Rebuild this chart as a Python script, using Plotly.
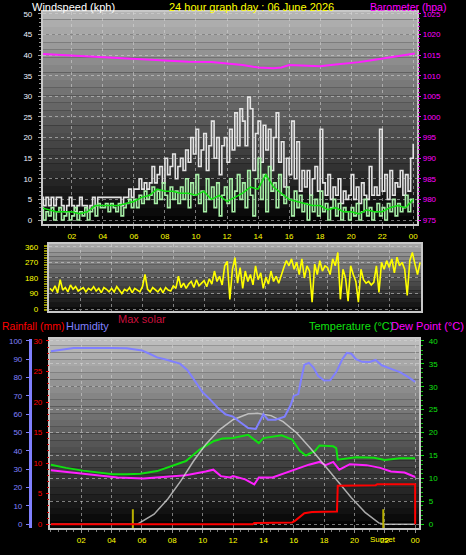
import plotly.graph_objects as go

W, H = 466, 555

# ---------------- data ----------------
t10 = [i / 6 for i in range(145)]  # 10-minute time steps (hours)

gust = [5.5, 3.5, 5.5, 3.5, 5.5, 3.5,
        5.5, 5.5, 3.5, 2, 3.5, 5.5,
        3.5, 2, 3.5, 5.5, 3.5, 3.5,
        2, 3.5, 5.5, 3.5, 5.5, 5.5,
        5.5, 5.5, 5.5, 5.5, 5.5, 5.5,
        5.5, 3.5, 5.5, 5.5, 7.5, 5.5,
        7.5, 7.5, 10, 7.5, 9, 7.5,
        9, 13, 9, 11, 13, 9,
        15, 11, 13, 16, 10, 13,
        15, 12, 17, 14, 20, 16,
        22, 13, 17, 21, 12, 18,
        24, 15, 20, 11, 18, 20,
        14, 22, 17, 26, 18, 27,
        24, 18, 29.8, 27, 12, 21,
        24, 14, 23, 17, 22, 12,
        20, 26, 14, 19, 8, 15,
        11, 24, 10, 19, 7, 12,
        8, 12, 6, 10, 13, 7,
        22, 9, 6, 11, 5, 8,
        6, 10, 4, 7, 5, 6,
        11, 5, 8, 4, 9, 6,
        5, 13, 6, 8, 6, 22,
        7, 11, 5, 12, 6, 9,
        8, 12, 6, 11, 7, 15,
        18.5]

speed = [3, 0, 2, 1, 3, 0,
         2, 3, 0, 1, 2, 0,
         1, 3, 0, 2, 1, 3,
         0, 2, 3, 1, 4, 3,
         3, 4, 2, 4, 3, 2,
         4, 1, 3, 4, 5, 3,
         5, 3, 6, 4, 7, 5,
         6, 8, 4, 7, 5, 9,
         6, 3, 8, 5, 7, 4,
         8, 5, 10, 3, 9, 6,
         11, 4, 7, 2, 10, 5,
         8, 3, 9, 1, 6, 8,
         4, 10, 2, 7, 11, 5,
         9, 3, 12, 6, 1, 10,
         15, 5, 11, 2, 13, 7,
         9, 3, 11, 6, 4, 8,
         5, 1, 7, 3, 6, 2,
         4, 0, 6, 2, 5, 1,
         7, 2, 4, 0, 3, 5,
         1, 4, 0, 3, 2, 0,
         3, 1, 4, 0, 2, 5,
         1, 3, 0, 2, 4, 1,
         3, 0, 4, 2, 5, 1,
         4, 2, 3, 6, 2, 5,
         4]

avg_hours = [0, 0.5, 1, 1.5, 2, 2.5, 3, 3.5, 4, 4.5, 5, 5.5, 6, 6.5, 7, 7.5, 8, 8.5,
             9, 9.5, 10, 10.5, 11, 11.5, 12, 12.5, 13, 13.5, 14, 14.5, 15, 15.5, 16,
             16.5, 17, 17.5, 18, 18.5, 19, 19.5, 20, 20.5, 21, 21.5, 22, 22.5, 23, 23.5, 24]
avg_speed = [3, 2.5, 2, 2, 2, 1.5, 2, 3.5, 3.5, 3.5, 3.5, 4, 4.5, 5.5, 6, 7.5, 7, 7,
             6.5, 6.5, 6, 7, 5, 6, 4.5, 5.5, 6.5, 8, 7.5, 11, 8, 6.5, 5,
             4.5, 4, 3.5, 3.5, 2.5, 3, 2, 2, 1.5, 2.5, 2, 2, 3, 3.5, 3, 5]

baro_hours = [0, 2, 4, 6, 8, 9.5, 11, 12, 13, 13.5, 14, 15, 15.5, 16, 17, 18, 19, 20,
              20.5, 21, 22, 23, 24.1]
baro = [1015.3, 1014.9, 1014.5, 1014.1, 1013.7, 1013.4, 1013.3, 1013.0, 1012.6, 1012.3,
        1012.0, 1011.8, 1012.0, 1012.6, 1012.5, 1012.3, 1012.7, 1013.0,
        1013.3, 1013.6, 1014.2, 1014.9, 1015.4]

direction = [120, 105, 135, 95, 170, 110,
             125, 100, 140, 115, 130, 105,
             115, 125, 100, 120, 110, 130,
             105, 120, 95, 125, 115, 100,
             120, 100, 130, 110, 90, 115,
             105, 125, 95, 120, 110, 100,
             130, 200, 115, 100, 125, 110,
             100, 120, 95, 125, 110, 105,
             135, 120, 190, 125, 150, 120,
             145, 160, 125, 170, 135, 150,
             165, 130, 175, 145, 220, 160,
             190, 140, 250, 276, 57, 230,
             297, 150, 240, 120, 220, 160,
             200, 140, 250, 170, 210, 120,
             185, 145, 220, 160, 190, 150,
             200, 240, 280, 250, 290, 230,
             270, 200, 290, 180, 250, 220,
             40, 260, 200, 280, 220, 250,
             240, 200, 290, 250, 327, 57,
             230, 180, 46, 250, 200, 160,
             40, 230, 170, 150, 160, 140,
             155, 250, 97, 270, 230, 280,
             240, 290, 210, 300, 250, 270,
             230, 80, 280, 327, 260, 200,
             270]

hum_hours = [0, 0.5, 1, 1.5, 2, 3, 4, 5, 5.5, 6, 6.5, 7, 7.5, 8, 8.5, 9, 9.5, 10, 10.5,
             11, 11.5, 12, 12.5, 13, 13.5, 13.8, 14, 14.3, 14.8, 15.4, 15.8, 16, 16.3,
             16.5, 16.7, 17, 17.3, 17.6, 18, 18.4, 18.8, 19.2, 19.5, 19.8, 20.1, 20.5,
             21, 21.4, 21.8, 22.5, 23, 23.5, 24]
humidity = [94.4, 95, 95.5, 96.2, 96.2, 96.4, 96.2, 96, 95.5, 94.8, 93, 91, 90, 89, 87.6,
            84, 78, 72, 68, 63.5, 60, 58.7, 55.5, 52.5, 52, 57, 60, 57, 57, 58.7, 65, 70,
            71, 79.5, 87, 88, 85.5, 81, 78.4, 78.5, 83, 90, 93.5, 93, 90, 88.6, 88.5, 89.6,
            86.7, 84.5, 83, 80.5, 77.7]

temp_hours = [0, 1, 2.1, 3, 4.1, 5, 5.9, 7, 8, 8.9, 9.8, 10.7, 11.3, 12, 13, 13.7, 14,
              15.2, 15.9, 16.4, 16.8, 17.4, 17.7, 18.6, 18.8, 18.9, 20.1, 21.3, 22, 23, 24]
temperature = [13.0, 12.3, 11.7, 11.3, 10.9, 10.9, 11.0, 11.6, 12.7, 13.8, 16.3, 18.1,
               18.7, 18.8, 19.5, 17.7, 18.8, 19.4, 18.5, 16.0, 15.0, 16.0, 17.2, 17.0,
               16.6, 14.1, 14.6, 14.5, 14.0, 14.4, 14.4]

dew_hours = [0, 1, 2.1, 3, 4.4, 6.1, 7.6, 8.9, 10.2, 10.7, 11.2, 11.8, 12, 12.8, 13.4,
             13.7, 14.6, 15.2, 16.1, 17, 17.7, 18.1, 18.6, 19, 19.7, 20.8, 21.7, 22.4,
             23.3, 24]
dew_point = [11.8, 11.4, 11.0, 10.7, 10.2, 10.0, 10.3, 10.7, 11.5, 11.9, 10.5, 10.2, 10.5,
             9.8, 8.7, 10.2, 10.2, 10.9, 11.9, 13.0, 13.6, 12.9, 13.6, 11.9, 13.1, 12.9,
             12.3, 11.5, 11.3, 10.3]

rain_hours = [0, 13.3, 13.4, 15.9, 16.1, 16.3, 16.5, 16.7, 17.2, 18.85, 18.9, 21.4, 21.5,
              24.0, 24.0]
rainfall = [0, 0, 0.2, 0.3, 0.6, 1.0, 1.5, 1.8, 2.0, 2.1, 6.3, 6.4, 6.55, 6.55, 0]

solar_hours = [0, 5.7, 6.8, 7.7, 8.55, 9.4, 10.2, 11.1, 12.0, 13.0, 13.6, 14.5, 15.3,
               16.2, 17.1, 18.0, 18.9, 19.8, 20.7, 21.6, 22.0, 24.0]
max_solar = [0, 0, 2.2, 5.5, 9.4, 13.8, 17.4, 20.6, 22.8, 24.1, 24.2, 23.7, 22.4,
             19.9, 16.6, 13.0, 9.4, 5.8, 2.6, 0.3, 0, 0]

sun_times = [5.4, 21.9]
sun_bar = [-1.0, 3.3]

hour_ticks = [2, 4, 6, 8, 10, 12, 14, 16, 18, 20, 22, 24]
hour_labels = ["02", "04", "06", "08", "10", "12", "14", "16", "18", "20", "22", "00"]
wind_ticks = [0, 5, 10, 15, 20, 25, 30, 35, 40, 45, 50]
baro_ticks = [975, 980, 985, 990, 995, 1000, 1005, 1010, 1015, 1020, 1025]
dir_ticks = [0, 90, 180, 270, 360]
dir_labels = ["N", "E", "S", "W", "N"]
temp_ticks = [0, 5, 10, 15, 20, 25, 30, 35, 40]
rain_ticks = [0, 5, 10, 15, 20, 25, 30]
hum_ticks = [0, 10, 20, 30, 40, 50, 60, 70, 80, 90, 100]

# ---------------- layout geometry (pixels) ----------------
def px_x(p):
    return p / W

def px_y(p):
    return 1 - p / H

top_dom_x = [px_x(43), px_x(418)]
top_dom_y = [px_y(224), px_y(10)]
mid_dom_x = [px_x(49), px_x(422)]
mid_dom_y = [px_y(312), px_y(244)]
bot_dom_x = [px_x(50), px_x(420)]
bot_dom_y = [px_y(531), px_y(340)]

FONT = "Liberation Sans, Arial, sans-serif"
GRID = "rgba(215,215,215,0.55)"

fig = go.Figure()

# ---- top panel ----
fig.add_trace(go.Scatter(x=t10, y=gust, mode="lines", xaxis="x", yaxis="y",
                         line=dict(color="#e4e4e4", width=1.6, shape="hv")))
fig.add_trace(go.Scatter(x=t10, y=speed, mode="lines", xaxis="x", yaxis="y",
                         line=dict(color="#a8f0a8", width=1.6, shape="hv")))
fig.add_trace(go.Scatter(x=avg_hours, y=avg_speed, mode="lines", xaxis="x", yaxis="y",
                         line=dict(color="#10e010", width=1.5)))
fig.add_trace(go.Scatter(x=baro_hours, y=baro, mode="lines", xaxis="x", yaxis="y2",
                         line=dict(color="#ff20ff", width=2)))

# ---- middle panel ----
fig.add_trace(go.Scatter(x=t10, y=direction, mode="lines", xaxis="x2", yaxis="y3",
                         line=dict(color="#ffff00", width=1.6)))

# ---- bottom panel ----
fig.add_trace(go.Scatter(x=hum_hours, y=humidity, mode="lines", xaxis="x3", yaxis="y7",
                         line=dict(color="#8080ff", width=2)))
fig.add_trace(go.Scatter(x=temp_hours, y=temperature, mode="lines", xaxis="x3", yaxis="y5",
                         line=dict(color="#10e010", width=2)))
fig.add_trace(go.Scatter(x=dew_hours, y=dew_point, mode="lines", xaxis="x3", yaxis="y5",
                         line=dict(color="#ff20ff", width=2)))
fig.add_trace(go.Scatter(x=rain_hours, y=rainfall, mode="lines", xaxis="x3", yaxis="y6",
                         line=dict(color="#ff0000", width=2)))
fig.add_trace(go.Scatter(x=solar_hours, y=max_solar, mode="lines", xaxis="x3", yaxis="y5",
                         line=dict(color="rgba(220,220,220,0.75)", width=1.5)))
for st in sun_times:
    fig.add_trace(go.Scatter(x=[st, st], y=sun_bar, mode="lines", xaxis="x3", yaxis="y5",
                             line=dict(color="#b8b000", width=2)))

# ---------------- gradient backgrounds ----------------
shapes = []
def bands(dx, dy, top_c, bot_c, n=28):
    for k in range(n):
        f = k / (n - 1)
        c = int(round(top_c + (bot_c - top_c) * f))
        y1 = dy[1] - (dy[1] - dy[0]) * k / n
        y0 = dy[1] - (dy[1] - dy[0]) * (k + 1) / n
        shapes.append(dict(type="rect", xref="paper", yref="paper", x0=dx[0], x1=dx[1],
                           y0=y0, y1=y1, layer="below", line=dict(width=0),
                           fillcolor=f"rgb({c},{c},{c})"))

bands(top_dom_x, top_dom_y, 180, 4)
bands(mid_dom_x, mid_dom_y, 165, 12, n=16)
bands(bot_dom_x, bot_dom_y, 188, 4)

tickfont = dict(family=FONT, size=8)

def xax(dom, rng, anchor, labels=True):
    return dict(domain=dom, range=rng, anchor=anchor, tickvals=hour_ticks,
                ticktext=hour_labels, showticklabels=labels,
                tickfont=dict(tickfont, color="#ffff00"), ticks="outside" if labels else "",
                ticklen=3, tickcolor="#909090", showgrid=True, gridcolor=GRID,
                griddash="dot", gridwidth=1, zeroline=False, showline=True,
                linecolor="#c8c8c8", linewidth=2, mirror=True,
                minor=dict(dtick=0.5, ticklen=2, tickcolor="#808080", showgrid=False) if labels else None,
                fixedrange=True)

layout = dict(
    width=W, height=H, margin=dict(l=0, r=0, t=0, b=0),
    paper_bgcolor="#000000", plot_bgcolor="rgba(0,0,0,0)",
    showlegend=False, shapes=shapes,
    xaxis=xax(top_dom_x, [0.135, 24.25], "y"),
    xaxis2=xax(mid_dom_x, [-0.065, 24.065], "y3", labels=False),
    xaxis3=xax(bot_dom_x, [-0.066, 24.26], "y5"),
    yaxis=dict(domain=top_dom_y, range=[-0.96, 50.48], anchor="x", tickvals=wind_ticks,
               tickfont=dict(tickfont, color="#eef2ff"), ticks="outside", ticklen=3,
               tickcolor="#a0a0a0", ticklabelstandoff=4,
               minor=dict(dtick=1, ticklen=2, tickcolor="#909090", showgrid=False),
               showgrid=True, gridcolor=GRID, griddash="dot", zeroline=False,
               showline=True, linecolor="#c8c8c8", linewidth=2, mirror=True),
    yaxis2=dict(overlaying="y", side="right", anchor="x", range=[974.04, 1025.48],
                tickvals=baro_ticks, tickfont=dict(tickfont, color="#ff00ff"),
                ticks="outside", ticklen=3, tickcolor="#ff00ff",
                minor=dict(dtick=1, ticklen=2, tickcolor="#d000d0"),
                showgrid=False, zeroline=False),
    yaxis3=dict(domain=mid_dom_y, range=[-11.4, 377], anchor="x2", tickvals=dir_ticks,
                tickfont=dict(tickfont, color="#ffff00"), ticks="outside", ticklen=3,
                tickcolor="#a0a000", ticklabelstandoff=4,
                minor=dict(dtick=10, ticklen=3, tickcolor="#909000", showgrid=False),
                showgrid=True, gridcolor=GRID, griddash="dot", zeroline=False,
                showline=True, linecolor="#c8c8c8", linewidth=2, mirror=True),
    yaxis4=dict(overlaying="y3", side="right", anchor="x2", range=[-11.4, 377],
                tickvals=dir_ticks, ticktext=dir_labels,
                tickfont=dict(family=FONT, size=13, color="#ffff00"), ticks="",
                ticklabelstandoff=10, showgrid=False, zeroline=False),
    yaxis5=dict(domain=bot_dom_y, side="right", anchor="x3", range=[-0.865, 40.43],
                tickvals=temp_ticks, tickfont=dict(tickfont, color="#10e010"),
                ticks="outside", ticklen=3, tickcolor="#10e010", ticklabelstandoff=3,
                minor=dict(dtick=1, ticklen=2, tickcolor="#10c010", showgrid=False),
                showgrid=True, gridcolor=GRID, griddash="dot", zeroline=False,
                showline=True, linecolor="#c8c8c8", linewidth=2, mirror=True),
    yaxis6=dict(overlaying="y5", side="left", anchor="x3", range=[-0.649, 30.32],
                tickvals=rain_ticks, tickfont=dict(tickfont, color="#ff0000"),
                ticks="outside", ticklen=3, tickcolor="#ff0000", ticklabelstandoff=2,
                minor=dict(dtick=1, ticklen=2, tickcolor="#d00000"),
                showgrid=False, zeroline=False),
    yaxis7=dict(overlaying="y5", side="left", anchor="free", position=px_x(30),
                range=[-2.16, 101.08], tickvals=hum_ticks,
                tickfont=dict(tickfont, color="#8080ff"), ticks="outside", ticklen=3,
                tickcolor="#8080ff", ticklabelstandoff=2, showline=True,
                linecolor="#8080ff", linewidth=3, showgrid=False, zeroline=False),
)
fig.update_layout(**layout)

def label(text, xc, yc, color, size=11, anchor="center"):
    fig.add_annotation(text=text, x=px_x(xc), y=px_y(yc), xref="paper", yref="paper",
                       showarrow=False, xanchor=anchor, yanchor="middle",
                       font=dict(family=FONT, size=size, color=color))

label("Windspeed (kph)", 74, 5.5, "#ffffff", 11)
label("24 hour graph day : 06 June 2026", 252, 5.5, "#ffff00", 11)
label("Barometer (hpa)", 409, 5, "#ff00ff", 10.5)
label("Max solar", 142, 320, "#c8103c", 11)
label("Rainfall (mm)", 0, 327, "#ff0000", 10.5, anchor="left")
label("Humidity", 88, 327, "#8080ff", 11)
label("Temperature (°C)", 352, 327, "#10e010", 11)
label("Dew Point (°C)", 428, 327, "#ff00ff", 11)
fig.add_annotation(text="Sunset", x=sun_times[1], y=px_y(542), xref="x3", yref="paper",
                   showarrow=False, xanchor="center", yanchor="middle",
                   font=dict(family=FONT, size=8, color="#ffff00"))

fig.write_html("out.html", config={"displayModeBar": False},
               post_script="document.body.style.margin='0';document.body.style.overflow='hidden';")
